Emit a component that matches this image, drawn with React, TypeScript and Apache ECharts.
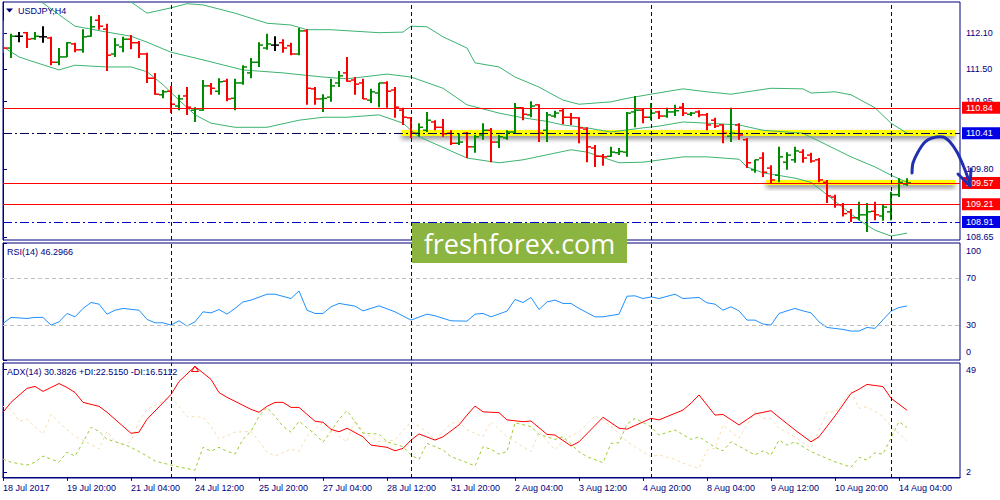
import React, { useEffect, useRef } from "react";
import * as echarts from "echarts";

// ---------- data ----------
const TICK_LABELS = [
  "18 Jul 2017", "19 Jul 20:00", "21 Jul 04:00", "24 Jul 12:00", "25 Jul 20:00",
  "27 Jul 04:00", "28 Jul 12:00", "31 Jul 20:00", "2 Aug 04:00", "3 Aug 12:00",
  "4 Aug 20:00", "8 Aug 04:00", "9 Aug 12:00", "10 Aug 20:00", "14 Aug 04:00",
];
const BARS_PER_TICK = 8;
const WEEK_STARTS = [21, 51, 81, 111];

const OPEN = [
  112.24, 111.85, 112.05, 112.11, 112.01, 112.04, 112.02, 111.61, 111.70, 111.92,
  111.82, 112.05, 112.32, 112.17, 111.75, 111.87, 112.00, 111.94, 111.75, 111.34,
  111.06, 111.12, 110.87, 111.04, 110.80, 110.80, 111.21, 111.12, 111.29, 111.00,
  111.26, 111.43, 111.61, 111.85, 111.90, 111.94, 111.89, 111.75, 112.14, 111.16,
  110.99, 111.02, 111.26, 111.43, 111.31, 111.26, 110.97, 111.09, 111.26, 111.14,
  110.80, 110.67, 110.41, 110.46, 110.60, 110.51, 110.41, 110.24, 110.41, 110.18,
  110.38, 110.46, 110.26, 110.33, 110.43, 110.84, 110.72, 110.89, 110.46, 110.70,
  110.79, 110.68, 110.67, 110.48, 110.16, 110.02, 110.02, 110.08, 110.09, 110.77,
  110.80, 110.68, 110.77, 110.70, 110.77, 110.85, 110.73, 110.77, 110.72, 110.63,
  110.55, 110.36, 110.55, 110.30, 109.79, 109.99, 109.82, 109.70, 109.92, 109.96,
  110.09, 110.04, 109.96, 109.58, 109.33, 109.20, 109.08, 108.98, 109.03, 109.09,
  109.01, 109.08, 109.37, 109.55,
];
const HIGH = [
  112.31, 112.09, 112.12, 112.12, 112.12, 112.22, 112.04, 111.85, 111.95, 111.94,
  112.17, 112.39, 112.41, 112.26, 112.02, 112.04, 112.07, 111.97, 111.77, 111.43,
  111.14, 111.21, 111.06, 111.19, 110.85, 111.31, 111.26, 111.34, 111.33, 111.33,
  111.56, 111.68, 111.95, 112.09, 112.05, 112.00, 111.94, 112.19, 112.17, 111.19,
  111.07, 111.33, 111.46, 111.70, 111.36, 111.33, 111.16, 111.26, 111.29, 111.19,
  110.84, 110.68, 110.58, 110.77, 110.63, 110.65, 110.46, 110.41, 110.43, 110.38,
  110.58, 110.50, 110.38, 110.46, 110.92, 110.85, 110.95, 110.90, 110.77, 110.79,
  110.82, 110.75, 110.68, 110.51, 110.21, 110.06, 110.18, 110.16, 110.77, 111.04,
  110.82, 110.92, 110.79, 110.84, 110.89, 110.92, 110.77, 110.80, 110.75, 110.67,
  110.56, 110.84, 110.58, 110.33, 109.96, 110.09, 109.87, 110.18, 110.09, 110.18,
  110.14, 110.08, 109.99, 109.62, 109.37, 109.23, 109.13, 109.25, 109.23, 109.25,
  109.20, 109.42, 109.65, 109.65,
];
const LOW = [
  111.77, 111.68, 111.95, 111.85, 111.99, 111.94, 111.56, 111.56, 111.70, 111.78,
  111.77, 112.04, 112.16, 111.46, 111.70, 111.78, 111.83, 111.68, 111.26, 111.06,
  111.00, 110.75, 110.80, 110.72, 110.60, 110.79, 111.06, 111.06, 110.95, 110.80,
  111.23, 111.34, 111.53, 111.82, 111.80, 111.77, 111.73, 111.73, 110.89, 110.89,
  110.77, 110.94, 111.19, 111.28, 111.06, 110.99, 110.92, 110.85, 110.84, 110.67,
  110.55, 110.33, 110.35, 110.43, 110.46, 110.35, 110.21, 110.21, 109.99, 110.08,
  110.30, 109.92, 110.16, 110.30, 110.41, 110.63, 110.68, 110.26, 110.26, 110.67,
  110.56, 110.55, 110.24, 109.92, 109.84, 109.86, 110.01, 110.04, 110.01, 110.51,
  110.58, 110.63, 110.65, 110.67, 110.70, 110.70, 110.70, 110.68, 110.46, 110.50,
  110.24, 110.26, 110.30, 109.82, 109.74, 109.67, 109.57, 109.58, 109.79, 109.91,
  109.91, 109.91, 109.58, 109.23, 109.15, 109.00, 108.91, 108.94, 108.74, 108.94,
  108.93, 108.94, 109.33, 109.52,
];
const CLOSE = [
  111.85, 112.05, 112.05, 112.00, 112.05, 112.04, 111.61, 111.70, 111.94, 111.82,
  112.04, 112.21, 112.22, 111.73, 111.90, 112.00, 111.94, 111.75, 111.34, 111.07,
  111.11, 110.90, 110.99, 110.85, 110.82, 111.21, 111.17, 111.28, 110.99, 111.26,
  111.53, 111.61, 111.90, 111.92, 111.90, 111.85, 111.75, 112.14, 111.17, 110.99,
  111.00, 111.21, 111.38, 111.29, 111.24, 110.99, 111.11, 111.26, 111.12, 110.85,
  110.68, 110.41, 110.51, 110.63, 110.51, 110.40, 110.24, 110.26, 110.18, 110.35,
  110.46, 110.26, 110.35, 110.43, 110.84, 110.73, 110.87, 110.41, 110.72, 110.75,
  110.68, 110.67, 110.50, 110.18, 110.02, 110.01, 110.09, 110.10, 110.75, 110.80,
  110.68, 110.75, 110.70, 110.77, 110.79, 110.75, 110.75, 110.72, 110.55, 110.53,
  110.41, 110.41, 110.38, 109.91, 109.96, 109.75, 109.62, 110.01, 110.04, 110.11,
  109.99, 109.94, 109.62, 109.35, 109.20, 109.05, 108.98, 109.03, 109.08, 109.03,
  109.16, 109.37, 109.58, 109.57,
];

const BB_UPPER = [
  [0, 113.35], [6, 113.1], [12, 112.85], [16, 112.63], [18, 112.44], [21, 112.53], [23, 112.6],
  [25, 112.58], [29, 112.44], [33, 112.27], [36, 112.24], [38, 112.16], [41, 112.16], [47, 112.11],
  [50, 112.12], [51, 112.22], [53, 112.21], [55, 112.04], [58, 111.85], [59, 111.6], [62, 111.53],
  [64, 111.36], [67, 111.19], [70, 110.97], [72, 110.9], [76, 110.94], [78, 111.0], [81, 111.07],
  [85, 111.16], [88, 111.11], [91, 111.07], [96, 111.17], [100, 111.16], [101, 111.09], [104, 111.11],
  [106, 111.06], [109, 110.84], [111, 110.58], [113, 110.41],
];
const BB_MIDDLE = [
  [0, 112.95], [5, 112.61], [9, 112.22], [13, 112.12], [16, 112.05], [18, 111.95], [21, 111.78],
  [25, 111.65], [30, 111.48], [35, 111.43], [40, 111.36], [43, 111.33], [48, 111.41], [51, 111.36],
  [55, 111.17], [58, 110.89], [62, 110.75], [65, 110.67], [68, 110.61], [70, 110.55], [73, 110.5],
  [76, 110.43], [80, 110.5], [82, 110.53], [85, 110.6], [88, 110.58], [92, 110.55], [95, 110.46],
  [100, 110.41], [103, 110.21], [106, 110.01], [109, 109.84], [111, 109.7], [113, 109.58],
];
const BB_LOWER = [
  [0, 111.87], [2, 111.7], [4, 111.61], [7, 111.48], [9, 111.56], [13, 111.53], [16, 111.53],
  [18, 111.45], [20, 111.23], [22, 110.97], [24, 110.72], [26, 110.58], [29, 110.51], [33, 110.51],
  [37, 110.63], [40, 110.68], [43, 110.68], [47, 110.72], [50, 110.58], [51, 110.46], [52, 110.35],
  [58, 109.99], [62, 109.91], [65, 109.96], [71, 110.13], [73, 110.09], [77, 109.91], [80, 109.92],
  [85, 110.01], [88, 110.01], [92, 109.97], [93, 109.84], [95, 109.74], [99, 109.65], [101, 109.58],
  [103, 109.37], [105, 109.15], [107, 108.94], [109, 108.77], [111, 108.67], [113, 108.72],
];

const RSI = [
  [0, 31.4], [1, 36.5], [3, 35.6], [4, 36.5], [5, 36.5], [6, 29.9], [7, 32.7], [8, 39.9], [9, 37.0],
  [10, 44.2], [11, 49.3], [12, 47.9], [13, 39.3], [14, 42.7], [15, 44.2], [17, 42.7], [18, 34.8],
  [19, 31.9], [20, 31.9], [21, 29.9], [22, 33.6], [23, 29.1], [24, 32.7], [25, 41.3], [26, 40.4],
  [27, 43.3], [28, 39.3], [29, 44.2], [30, 49.8], [31, 51.3], [33, 56.4], [34, 56.4], [36, 52.7],
  [37, 59.2], [38, 42.7], [39, 39.9], [40, 39.9], [41, 45.6], [42, 48.5], [44, 46.2], [45, 42.1],
  [47, 46.4], [49, 41.3], [51, 34.2], [53, 39.3], [54, 37.9], [56, 33.6], [58, 33.3], [59, 39.3],
  [60, 39.9], [61, 37.0], [63, 41.9], [64, 51.9], [65, 49.3], [66, 53.6], [67, 43.3], [68, 49.8],
  [69, 51.3], [70, 48.5], [71, 48.5], [72, 44.2], [74, 37.0], [75, 37.0], [77, 39.3], [78, 54.7],
  [79, 55.0], [80, 52.7], [81, 54.1], [82, 52.7], [84, 56.4], [85, 52.7], [87, 53.6], [88, 49.0],
  [89, 47.9], [90, 42.7], [91, 45.6], [92, 42.1], [93, 34.2], [94, 34.2], [95, 30.8], [96, 29.9],
  [97, 39.9], [98, 42.1], [99, 44.2], [100, 42.1], [101, 40.4], [102, 32.7], [103, 27.9], [105, 26.2],
  [106, 24.8], [107, 24.8], [108, 27.9], [109, 27.1], [111, 41.9], [112, 45.0], [113, 46.3],
];

const ADX_MAIN = [
  [0, 29.5], [1, 34.0], [3, 40.4], [4, 41.3], [5, 39.0], [6, 40.8], [7, 42.6], [8, 40.8], [9, 38.5],
  [10, 34.0], [12, 32.2], [13, 29.5], [14, 26.3], [16, 19.9], [17, 20.4], [18, 26.3], [21, 37.6],
  [22, 43.5], [24, 50.4], [26, 44.5], [27, 38.5], [28, 36.3], [29, 34.5], [31, 30.8], [32, 29.5],
  [33, 32.2], [34, 34.0], [35, 34.0], [36, 31.7], [37, 31.7], [39, 25.4], [40, 24.9], [41, 21.7],
  [42, 20.6], [43, 22.2], [45, 18.3], [46, 14.5], [48, 13.5], [49, 11.9], [50, 13.0], [51, 16.8],
  [52, 19.6], [54, 16.8], [55, 18.3], [57, 23.7], [58, 28.2], [59, 32.3], [60, 29.7], [62, 29.3],
  [63, 26.0], [65, 25.2], [66, 25.5], [68, 19.4], [69, 19.1], [71, 14.1], [72, 16.0], [75, 27.2],
  [77, 22.2], [78, 21.8], [81, 26.7], [82, 26.0], [83, 27.5], [85, 30.5], [86, 33.6], [87, 37.4],
  [89, 28.2], [90, 28.5], [92, 23.7], [94, 28.7], [96, 30.2], [97, 27.2], [99, 21.4], [101, 16.0],
  [102, 18.3], [104, 27.8], [106, 38.1], [107, 40.0], [108, 42.2], [110, 41.2], [111, 35.9], [113, 30.4],
];
const PLUS_DI = [
  [0, 8.1], [1, 6.7], [3, 5.4], [4, 6.7], [5, 9.5], [7, 6.7], [8, 11.3], [9, 9.5], [10, 15.8],
  [11, 22.6], [12, 20.8], [13, 17.2], [15, 14.9], [16, 13.5], [18, 9.5], [19, 7.2], [21, 5.4],
  [22, 4.5], [24, 3.1], [25, 13.5], [26, 11.7], [27, 13.5], [28, 11.7], [29, 10.4], [30, 17.2],
  [31, 20.8], [32, 27.6], [33, 31.7], [34, 27.6], [35, 23.1], [36, 20.4], [37, 25.4], [39, 19.5],
  [40, 15.8], [41, 20.8], [42, 26.3], [43, 30.2], [44, 25.2], [45, 19.9], [47, 19.6], [48, 16.0],
  [50, 13.8], [51, 10.0], [52, 8.0], [53, 15.3], [55, 12.3], [56, 9.2], [58, 6.5], [59, 5.0],
  [60, 13.8], [61, 12.6], [62, 10.4], [63, 11.5], [64, 24.7], [66, 22.9], [67, 19.4], [69, 17.1],
  [70, 18.3], [72, 11.5], [73, 9.2], [75, 6.5], [76, 15.3], [77, 15.6], [78, 24.1], [79, 26.7],
  [81, 22.9], [82, 19.1], [84, 21.4], [86, 17.1], [87, 18.3], [89, 13.5], [90, 11.9], [91, 16.0],
  [94, 10.0], [95, 11.9], [96, 10.0], [97, 16.8], [98, 14.5], [99, 16.0], [101, 11.5], [104, 6.9],
  [106, 4.4], [107, 8.9], [108, 7.7], [109, 11.0], [110, 10.4], [112, 25.2], [113, 22.5],
];
const MINUS_DI = [
  [0, 32.2], [1, 30.8], [2, 25.4], [3, 26.3], [5, 19.5], [6, 28.5], [7, 24.9], [9, 18.5], [11, 14.9],
  [12, 12.7], [13, 20.8], [14, 16.3], [15, 14.5], [16, 16.3], [17, 25.4], [18, 30.8], [20, 34.5],
  [21, 36.3], [22, 32.2], [23, 27.6], [25, 27.2], [26, 23.1], [27, 17.2], [29, 20.4], [31, 20.8],
  [32, 16.3], [33, 11.3], [34, 9.5], [36, 12.7], [37, 11.7], [38, 18.5], [40, 24.9], [41, 22.6],
  [42, 18.5], [43, 16.0], [44, 26.0], [45, 20.6], [47, 16.0], [49, 16.8], [51, 25.2], [53, 20.6],
  [54, 16.8], [56, 24.4], [57, 25.2], [58, 21.4], [60, 18.3], [61, 25.2], [63, 18.3], [66, 11.5],
  [67, 20.6], [69, 12.3], [70, 16.8], [72, 20.6], [74, 27.9], [75, 26.0], [77, 19.9], [78, 16.0],
  [81, 9.2], [82, 10.0], [84, 8.0], [85, 6.2], [87, 3.9], [88, 12.3], [89, 13.0], [90, 23.7],
  [91, 20.6], [92, 17.6], [94, 29.7], [95, 26.7], [96, 26.7], [97, 22.2], [99, 18.3], [101, 13.0],
  [102, 21.4], [103, 29.7], [104, 29.7], [106, 38.9], [107, 31.3], [108, 32.0], [110, 27.5],
  [111, 22.9], [113, 16.5],
];

const PRICE_TICKS = [112.1, 111.5, 110.95, 109.8, 108.65];
const RSI_TICKS = [0, 30, 70, 100];
const RSI_LEVELS = [70, 30];
const ADX_TICKS = [2, 49];
const RED_LEVELS = [110.84, 109.57, 109.21];
const DASHDOT_LEVELS = [110.41, 108.91];
// [startBar, endBar, topPrice, bottomPrice]
const ZONES = [
  [49.8, 119, 110.465, 110.363],
  [95.4, 119, 109.619, 109.534],
];

// ---------- style ----------
const NAVY = "#000080";
const FONT = '"Liberation Sans", Arial, sans-serif';
const X_MAX = 119.625;

export default function App() {
  const ref = useRef<HTMLDivElement>(null);

  useEffect(() => {
    if (!ref.current) return;
    const chart = echarts.init(ref.current, null, { renderer: "svg" });

    const tickIdx = TICK_LABELS.map((_, k) => k * BARS_PER_TICK);
    const ohlc = OPEN.map((o, i) => [i, o, HIGH[i], LOW[i], CLOSE[i]]);

    const weekLines = (color: string) =>
      WEEK_STARTS.map((w) => ({
        xAxis: w,
        lineStyle: { color, type: [4, 3], width: 1 },
        label: { show: false },
      }));

    const boxLabel = (bg: string) => ({
      show: true,
      position: "end",
      formatter: (p: any) => Number(p.value).toFixed(2),
      color: "#ffffff",
      backgroundColor: bg,
      padding: [2, 9, 1, 4],
      fontSize: 9,
      fontFamily: FONT,
      distance: 2,
    });

    const levelData: any[] = [
      ...RED_LEVELS.map((v) => ({
        yAxis: v,
        lineStyle: { color: "#ff0000", width: 1, type: "solid" },
        label: boxLabel("#ff0000"),
      })),
      ...DASHDOT_LEVELS.map((v, k) => ({
        yAxis: v,
        lineStyle: { color: k === 0 ? "#000050" : "#0000c8", width: 1, type: [9, 3, 2, 3] },
        label: boxLabel("#0000e6"),
      })),
      ...weekLines(NAVY),
    ];

    const yLabelBase = { color: NAVY, fontSize: 9, fontFamily: FONT, margin: 6 };
    const gridBase = { left: 3, width: 957, show: true, borderColor: NAVY, borderWidth: 1, containLabel: false };

    const option: any = {
      animation: false,
      backgroundColor: "#ffffff",
      grid: [
        { ...gridBase, top: 2, height: 238 },
        { ...gridBase, top: 243, height: 117 },
        { ...gridBase, top: 363, height: 115 },
      ],
      xAxis: [
        { gridIndex: 0, type: "value", min: 0, max: X_MAX, show: false },
        { gridIndex: 1, type: "value", min: 0, max: X_MAX, show: false },
        {
          gridIndex: 2,
          type: "value",
          min: 0,
          max: X_MAX,
          interval: BARS_PER_TICK,
          splitLine: { show: false },
          axisLine: { show: true, lineStyle: { color: NAVY } },
          axisTick: { show: true, customValues: tickIdx, length: 4, lineStyle: { color: NAVY } },
          axisLabel: {
            customValues: tickIdx,
            formatter: (v: number) => TICK_LABELS[Math.round(v / BARS_PER_TICK)] ?? "",
            align: "left",
            color: NAVY,
            fontSize: 9,
            fontFamily: FONT,
            margin: 5,
          },
        },
      ],
      yAxis: [
        {
          gridIndex: 0,
          type: "value",
          position: "right",
          min: 108.604,
          max: 112.629,
          splitLine: { show: false },
          axisLine: { show: true, lineStyle: { color: NAVY } },
          axisTick: { show: true, customValues: PRICE_TICKS, length: 4, lineStyle: { color: NAVY } },
          axisLabel: { ...yLabelBase, customValues: PRICE_TICKS, formatter: (v: number) => v.toFixed(2) },
        },
        {
          gridIndex: 1,
          type: "value",
          position: "right",
          min: 0,
          max: 100.3,
          splitLine: { show: false },
          axisLine: { show: true, lineStyle: { color: NAVY } },
          axisTick: { show: true, customValues: RSI_TICKS, length: 4, lineStyle: { color: NAVY } },
          axisLabel: {
            ...yLabelBase,
            customValues: RSI_TICKS,
            formatter: (v: number) => (v === 100 ? "{t|100}" : v === 0 ? "{b|0}" : "{n|" + v + "}"),
            rich: {
              t: { lineHeight: 24, verticalAlign: "bottom", color: NAVY, fontSize: 9, fontFamily: FONT },
              b: { lineHeight: 26, verticalAlign: "top", color: NAVY, fontSize: 9, fontFamily: FONT },
              n: { color: NAVY, fontSize: 9, fontFamily: FONT },
            },
          },
        },
        {
          gridIndex: 2,
          type: "value",
          position: "right",
          min: -0.51,
          max: 51.97,
          splitLine: { show: false },
          axisLine: { show: true, lineStyle: { color: NAVY } },
          axisTick: { show: true, customValues: ADX_TICKS, length: 4, lineStyle: { color: NAVY } },
          axisLabel: { ...yLabelBase, customValues: ADX_TICKS },
        },
      ],
      series: [
        {
          name: "zones",
          type: "line",
          xAxisIndex: 0,
          yAxisIndex: 0,
          data: [],
          z: 1,
          silent: true,
          markArea: {
            silent: true,
            itemStyle: {
              color: "#ffff00",
              shadowColor: "rgba(0,0,0,0.45)",
              shadowBlur: 5,
              shadowOffsetY: 3,
            },
            data: ZONES.map(([x0, x1, y0, y1]) => [
              { xAxis: x0, yAxis: y0 },
              { xAxis: x1, yAxis: y1 },
            ]),
          },
        },
        ...[BB_UPPER, BB_MIDDLE, BB_LOWER].map((d) => ({
          type: "line",
          xAxisIndex: 0,
          yAxisIndex: 0,
          data: d,
          showSymbol: false,
          clip: true,
          z: 2,
          silent: true,
          lineStyle: { color: "#3cb371", width: 1 },
        })),
        {
          name: "bars",
          type: "custom",
          xAxisIndex: 0,
          yAxisIndex: 0,
          data: ohlc,
          encode: { x: 0, y: [1, 2, 3, 4] },
          clip: true,
          z: 3,
          silent: true,
          renderItem: (params: any, api: any) => {
            const i = api.value(0);
            const o = api.value(1);
            const c = api.value(4);
            const pH = api.coord([i, api.value(2)]);
            const pL = api.coord([i, api.value(3)]);
            const pO = api.coord([i, o]);
            const pC = api.coord([i, c]);
            const color = c > o ? "#008a00" : c < o ? "#ff0000" : "#000000";
            const x = Math.round(pH[0]);
            return {
              type: "group",
              children: [
                { type: "line", shape: { x1: x, y1: pH[1], x2: x, y2: pL[1] }, style: { stroke: color, lineWidth: 2 } },
                { type: "line", shape: { x1: x - 4, y1: pO[1], x2: x, y2: pO[1] }, style: { stroke: color, lineWidth: 1.5 } },
                { type: "line", shape: { x1: x, y1: pC[1], x2: x + 4, y2: pC[1] }, style: { stroke: color, lineWidth: 1.5 } },
              ],
            };
          },
        },
        {
          name: "levels",
          type: "line",
          xAxisIndex: 0,
          yAxisIndex: 0,
          data: [],
          z: 4,
          silent: true,
          markLine: {
            silent: true,
            symbol: ["none", "none"],
            label: { show: false },
            data: levelData,
          },
        },
        {
          name: "RSI",
          type: "line",
          xAxisIndex: 1,
          yAxisIndex: 1,
          data: RSI,
          showSymbol: false,
          z: 3,
          silent: true,
          lineStyle: { color: "#1e90ff", width: 1 },
          markLine: {
            silent: true,
            symbol: ["none", "none"],
            label: { show: false },
            data: [
              ...RSI_LEVELS.map((v) => ({ yAxis: v, lineStyle: { color: "#c0c0c0", type: [4, 3], width: 1 } })),
              ...weekLines(NAVY),
            ],
          },
        },
        {
          name: "-DI",
          type: "line",
          xAxisIndex: 2,
          yAxisIndex: 2,
          data: MINUS_DI,
          showSymbol: false,
          z: 2,
          silent: true,
          lineStyle: { color: "#f5deb3", width: 1, type: [3, 3] },
        },
        {
          name: "+DI",
          type: "line",
          xAxisIndex: 2,
          yAxisIndex: 2,
          data: PLUS_DI,
          showSymbol: false,
          z: 2,
          silent: true,
          lineStyle: { color: "#9acd32", width: 1, type: [3, 3] },
        },
        {
          name: "ADX",
          type: "line",
          xAxisIndex: 2,
          yAxisIndex: 2,
          data: ADX_MAIN,
          showSymbol: false,
          z: 3,
          silent: true,
          lineStyle: { color: "#ff0000", width: 1 },
          markLine: {
            silent: true,
            symbol: ["none", "none"],
            label: { show: false },
            data: weekLines(NAVY),
          },
        },
      ],
      graphic: [
        { type: "polygon", z: 100, shape: { points: [[6, 8.5], [13, 8.5], [9.5, 12.5]] }, style: { fill: NAVY } },
        {
          type: "text", z: 100, x: 18, y: 10.5,
          style: { text: "USDJPY,H4", fill: NAVY, font: "9px " + FONT, textAlign: "left", textVerticalAlign: "middle" },
        },
        {
          type: "text", z: 100, x: 7, y: 252,
          style: { text: "RSI(14) 46.2966", fill: NAVY, font: "9px " + FONT, textAlign: "left", textVerticalAlign: "middle" },
        },
        {
          type: "text", z: 100, x: 7, y: 372,
          style: {
            text: "ADX(14) 30.3826 +DI:22.5150 -DI:16.5112",
            fill: NAVY, font: "9px " + FONT, textAlign: "left", textVerticalAlign: "middle",
          },
        },
        {
          type: "polygon", z: 100, shape: { points: [[195, 366], [191.5, 371.5], [198.5, 371.5]] },
          style: { fill: "none", stroke: "#ff0000", lineWidth: 1 },
        },
        {
          type: "group", z: 100, x: 412, y: 223,
          children: [
            { type: "rect", shape: { x: 0, y: 0, width: 215, height: 40 }, style: { fill: "#8cb440" }, z: 100 },
            {
              type: "text", x: 107.5, y: 20, z: 101,
              style: {
                text: "freshforex.com", fill: "#ffffff", font: '27px "Open Sans", "Noto Sans", sans-serif',
                textAlign: "center", textVerticalAlign: "middle",
              },
            },
          ],
        },
        {
          type: "polyline", z: 110,
          shape: {
            points: [[912, 173], [913, 163], [918, 152], [925, 142], [932, 138], [943, 137], [950, 142], [957, 152], [963, 165], [968, 178], [970, 185]],
            smooth: 0.3,
          },
          style: { stroke: "#1f2fb0", lineWidth: 3, fill: "none", lineCap: "round" },
        },
        {
          type: "polyline", z: 110,
          shape: { points: [[958, 174], [970, 186], [971, 169]] },
          style: { stroke: "#1f2fb0", lineWidth: 3, fill: "none", lineCap: "round", lineJoin: "round" },
        },
      ],
    };

    chart.setOption(option);
    return () => chart.dispose();
  }, []);

  return (
    <div
      ref={ref}
      style={{ position: "absolute", left: 0, top: 0, width: 1000, height: 500, background: "#fff" }}
    />
  );
}
